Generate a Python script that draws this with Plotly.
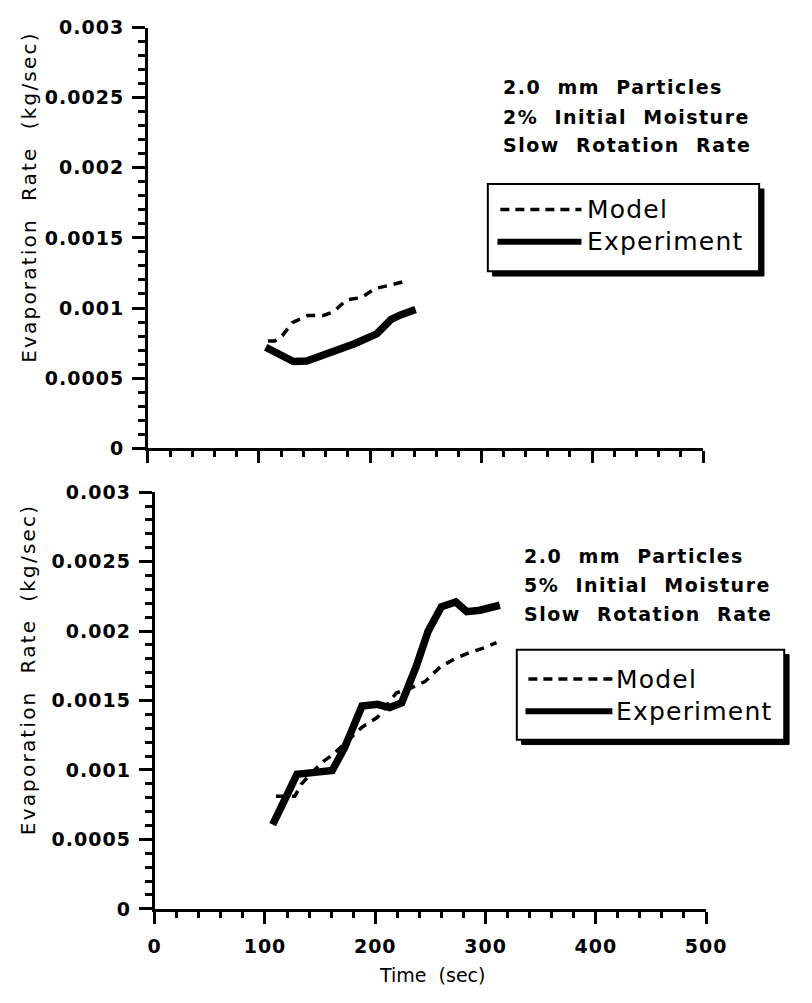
import plotly.graph_objects as go

W, H = 812, 1003

# ---------------- data ----------------
# Top panel: 2.0 mm particles, 2% initial moisture
top_exp_t = [106, 119, 131, 143, 163, 186, 206, 214, 219, 227, 241]
top_exp_y = [0.00072, 0.000664, 0.000618, 0.000622, 0.000675, 0.000745, 0.000815, 0.000873, 0.000919, 0.000949, 0.000989]
top_mod_t = [108, 114, 121, 130, 144, 158, 167, 179, 192, 205, 218, 235]
top_mod_y = [0.000764, 0.000764, 0.000803, 0.000896, 0.000947, 0.000947, 0.000973, 0.001058, 0.001074, 0.00114, 0.001163, 0.001198]

# Bottom panel: 2.0 mm particles, 5% initial moisture
bot_exp_t = [107, 129, 143, 161, 172, 188, 202, 213, 224, 237, 248, 260, 273, 283, 295, 313]
bot_exp_y = [0.000606, 0.000969, 0.000981, 0.000997, 0.001157, 0.001461, 0.001473, 0.001449, 0.001484, 0.001742, 0.002, 0.002175, 0.00221, 0.00214, 0.00215, 0.002186]
bot_mod_t = [110, 127, 133, 151, 162, 188, 202, 219, 232, 245, 259, 272, 286, 298, 310]
bot_mod_y = [0.00081, 0.00081, 0.000899, 0.001051, 0.001114, 0.001308, 0.001379, 0.001554, 0.001589, 0.001636, 0.001742, 0.0018, 0.001847, 0.001877, 0.001917]

y_tickvals = [0, 0.0005, 0.001, 0.0015, 0.002, 0.0025, 0.003]
y_ticktext = ["0", "0.0005", "0.001", "0.0015", "0.002", "0.0025", "0.003"]
x_tickvals = [0, 100, 200, 300, 400, 500]
x_ticktext = ["0", "100", "200", "300", "400", "500"]

top_info = ["2.0  mm  Particles", "2%  Initial  Moisture", "Slow  Rotation  Rate"]
bot_info = ["2.0  mm  Particles", "5%  Initial  Moisture", "Slow  Rotation  Rate"]
series_names = ["Model", "Experiment"]
y_title = "Evaporation&nbsp; Rate&nbsp; (kg/sec)"
x_title = "Time&nbsp; (sec)"

# ---------------- helpers ----------------
def px(x):
    return x / W

def py(y):
    return 1 - y / H

def ls(text, sp):
    return '<span style="letter-spacing:%spx">%s</span>' % (sp, text)

FONT = "DejaVu Sans"

fig = go.Figure()

exp_line = dict(color="black", width=7.5)
mod_line = dict(color="black", width=3.5, dash="9px,7px")

fig.add_trace(go.Scatter(x=top_mod_t, y=top_mod_y, mode="lines", line=mod_line,
                         xaxis="x", yaxis="y", showlegend=False))
fig.add_trace(go.Scatter(x=top_exp_t, y=top_exp_y, mode="lines", line=exp_line,
                         xaxis="x", yaxis="y", showlegend=False))
fig.add_trace(go.Scatter(x=bot_mod_t, y=bot_mod_y, mode="lines", line=mod_line,
                         xaxis="x2", yaxis="y2", showlegend=False))
fig.add_trace(go.Scatter(x=bot_exp_t, y=bot_exp_y, mode="lines", line=exp_line,
                         xaxis="x2", yaxis="y2", showlegend=False))

tickfont = dict(family=FONT, size=19, color="black", weight="bold")

def xaxis_cfg(domain, anchor, labels):
    return dict(domain=domain, anchor=anchor, range=[0, 500], showgrid=False, zeroline=False,
                showline=True, linewidth=3, linecolor="black", mirror=False,
                ticks="outside", ticklen=12, tickwidth=3, tickcolor="black",
                tickvals=x_tickvals, ticktext=[ls(t, 1) for t in x_ticktext],
                showticklabels=labels, tickfont=tickfont, ticklabelstandoff=6,
                minor=dict(tickvals=list(range(0, 501, 20)), ticks="outside", ticklen=6,
                           tickwidth=3, tickcolor="black", showgrid=False))

def yaxis_cfg(domain, anchor):
    return dict(domain=domain, anchor=anchor, range=[0, 0.003], showgrid=False, zeroline=False,
                showline=True, linewidth=3, linecolor="black",
                ticks="outside", ticklen=13, tickwidth=3, tickcolor="black",
                tickvals=y_tickvals, ticktext=[ls(t, 1) for t in y_ticktext],
                tickfont=tickfont, ticklabelstandoff=4,
                minor=dict(tickvals=[i * 0.0001 for i in range(31)], ticks="outside", ticklen=7,
                           tickwidth=3, tickcolor="black", showgrid=False))

fig.update_layout(
    width=W, height=H, margin=dict(l=0, r=0, t=0, b=0),
    paper_bgcolor="white", plot_bgcolor="white", showlegend=False,
    xaxis=xaxis_cfg([px(146), px(721)], "y", False),
    yaxis=yaxis_cfg([py(447), py(17)], "x"),
    xaxis2=xaxis_cfg([px(153), px(724)], "y2", True),
    yaxis2=yaxis_cfg([py(918), py(492)], "x2"),
)

annotations = []
shapes = []

# axis titles
for yb in (362, 845):
    annotations.append(dict(x=px(22), y=py(yb), xref="paper", yref="paper", text=ls(y_title, 2.2),
                            textangle=-90, showarrow=False, xanchor="center", yanchor="bottom",
                            font=dict(family=FONT, size=20, color="black")))
annotations.append(dict(x=px(440), y=py(986), xref="paper", yref="paper", text=x_title,
                        showarrow=False, xanchor="center", yanchor="middle",
                        font=dict(family=FONT, size=19, color="black")))

# condition text
for lines, x0, ys in ((top_info, 512, (78, 108, 137)), (bot_info, 533, (557, 587, 617))):
    for t, yy in zip(lines, ys):
        annotations.append(dict(x=px(x0), y=py(yy), xref="paper", yref="paper", text=ls(t, 1.5),
                                showarrow=False, xanchor="left", yanchor="middle",
                                font=dict(family=FONT, size=19, color="black", weight="bold")))

# legend boxes
def legend(box, sh, lx0, lx1, ly, tx):
    x0, y0, x1, y1 = box
    shapes.append(dict(type="rect", xref="paper", yref="paper",
                       x0=px(x0 + sh), x1=px(x1 + sh), y0=py(y1 + sh), y1=py(y0 + sh),
                       fillcolor="black", line=dict(color="black", width=1)))
    shapes.append(dict(type="rect", xref="paper", yref="paper",
                       x0=px(x0), x1=px(x1), y0=py(y1), y1=py(y0),
                       fillcolor="white", line=dict(color="black", width=2)))
    shapes.append(dict(type="line", xref="paper", yref="paper",
                       x0=px(lx0), x1=px(lx1), y0=py(ly[0]), y1=py(ly[0]),
                       line=dict(color="black", width=3.5, dash="9px,6px")))
    shapes.append(dict(type="line", xref="paper", yref="paper",
                       x0=px(lx0 - 3), x1=px(lx1), y0=py(ly[1]), y1=py(ly[1]),
                       line=dict(color="black", width=6)))
    for name, yy in zip(series_names, ly):
        annotations.append(dict(x=px(tx), y=py(yy), xref="paper", yref="paper", text=ls(name, 1.2),
                                showarrow=False, xanchor="left", yanchor="middle",
                                font=dict(family=FONT, size=25, color="black")))

legend((498, 177, 779, 266), 5, 511, 595, (203, 236), 599)
legend((528, 653, 805, 745), 5, 540, 627, (683, 716), 629)

fig.update_layout(annotations=annotations, shapes=shapes)

fig.write_html("out.html")
